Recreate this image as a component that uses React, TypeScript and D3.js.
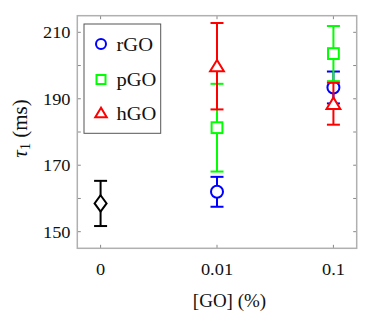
import React from "react";
import * as d3 from "d3";

const categories = ["0", "0.01", "0.1"];
const yTicks = [150, 160, 170, 180, 190, 200, 210];
const yLabels = [150, 170, 190, 210];

const controlMean = [158.5];
const controlErr = [6.8];

const seriesNames = ["rGO", "pGO", "hGO"];
const seriesColors = ["#0000ff", "#00ff00", "#ff0000"];
const seriesShapes = ["circle", "square", "triangle"];
const rGOMean = [162.0, 193.4];
const rGOErr = [4.5, 4.8];
const pGOMean = [181.3, 203.6];
const pGOErr = [13.2, 8.3];
const hGOMean = [199.8, 188.5];
const hGOErr = [13.0, 6.3];

const W = 374, H = 325;
const L = 77.3, R = 356.7, T = 15.7, B = 248.3;

const x = d3.scaleLinear().domain([-0.2, 2.2]).range([L, R]);
const y = d3.scaleLinear().domain([145, 215]).range([B, T]);

const FONT = "'Liberation Serif', 'Times New Roman', serif";

function SText({ x0, y0, sx, size, anchor, children }: any) {
  return (
    <text
      transform={`translate(${x0},${y0}) scale(${sx},1)`}
      fontFamily={FONT}
      fontSize={size}
      textAnchor={anchor}
      fill="#111"
    >
      {children}
    </text>
  );
}

function Marker({ shape, cx, cy, color, s, sw }: any) {
  if (shape === "circle")
    return <circle cx={cx} cy={cy} r={s * 0.5} fill="white" stroke={color} strokeWidth={sw} />;
  if (shape === "square")
    return <rect x={cx - s * 0.45} y={cy - s * 0.45} width={s * 0.9} height={s * 0.9} fill="white" stroke={color} strokeWidth={sw} />;
  if (shape === "triangle") {
    const h = s * 0.95, w = s * 1.15;
    const p = [[cx, cy - h * 0.55], [cx - w / 2, cy + h * 0.45], [cx + w / 2, cy + h * 0.45]];
    return <polygon points={p.map((q) => q.join(",")).join(" ")} fill="white" stroke={color} strokeWidth={sw} />;
  }
  const hw = s * 0.5, hh = s * 0.68;
  const p = [[cx, cy - hh], [cx + hw, cy], [cx, cy + hh], [cx - hw, cy]];
  return <polygon points={p.map((q) => q.join(",")).join(" ")} fill="white" stroke={color} strokeWidth={sw} />;
}

function ErrPoint({ xi, m, e, color, shape }: any) {
  const cx = x(xi);
  const cap = 6.5;
  return (
    <g>
      <line x1={cx} x2={cx} y1={y(m - e)} y2={y(m + e)} stroke={color} strokeWidth={2} />
      <line x1={cx - cap} x2={cx + cap} y1={y(m + e)} y2={y(m + e)} stroke={color} strokeWidth={2} />
      <line x1={cx - cap} x2={cx + cap} y1={y(m - e)} y2={y(m - e)} stroke={color} strokeWidth={2} />
      <Marker shape={shape} cx={cx} cy={y(m)} color={color} s={12} sw={2} />
    </g>
  );
}

export default function App() {
  const means = [rGOMean, pGOMean, hGOMean];
  const errs = [rGOErr, pGOErr, hGOErr];
  const legendY = [44, 79.5, 113];
  return (
    <svg width={W} height={H} style={{ position: "absolute", left: 0, top: 0, background: "white" }}>
      <rect x={0} y={0} width={W} height={H} fill="white" />
      {yTicks.map((t) => (
        <g key={"yt" + t}>
          <line x1={L} x2={L + 3.5} y1={y(t)} y2={y(t)} stroke="#888" strokeWidth={1} />
          <line x1={R - 3.5} x2={R} y1={y(t)} y2={y(t)} stroke="#888" strokeWidth={1} />
        </g>
      ))}
      {categories.map((c, i) => (
        <g key={"xt" + c}>
          <line x1={x(i)} x2={x(i)} y1={B} y2={B - 3.5} stroke="#888" strokeWidth={1} />
          <line x1={x(i)} x2={x(i)} y1={T} y2={T + 3.5} stroke="#888" strokeWidth={1} />
        </g>
      ))}
      <rect x={L} y={T} width={R - L} height={B - T} fill="none" stroke="#b0b0b0" strokeWidth={1.5} />
      {yLabels.map((t) => (
        <SText key={"yl" + t} x0={70.5} y0={y(t) + 6} sx={1.05} size={17.5} anchor="end">
          {t}
        </SText>
      ))}
      {categories.map((c, i) => (
        <SText key={"xl" + c} x0={x(i)} y0={275} sx={1.05} size={17.5} anchor="middle">
          {c}
        </SText>
      ))}
      <SText x0={229.5} y0={306.5} sx={1.0} size={19} anchor="middle">
        [GO]{"\u00a0"}(%)
      </SText>
      <text
        transform="translate(26.5,128.5) rotate(-90)"
        fontFamily={FONT}
        fontSize={21}
        textAnchor="middle"
        fill="#111"
      >
        <tspan fontStyle="italic">τ</tspan>
        <tspan fontSize={14} dy={3}>1</tspan>
        <tspan dy={-3}>{"\u00a0"}(ms)</tspan>
      </text>
      <ErrPoint xi={0} m={controlMean[0]} e={controlErr[0]} color="#000" shape="diamond" />
      {seriesNames.map((n, si) =>
        means[si].map((m, j) => (
          <ErrPoint key={n + j} xi={j + 1} m={m} e={errs[si][j]} color={seriesColors[si]} shape={seriesShapes[si]} />
        ))
      )}
      <rect x={84} y={24} width={76.7} height={109.3} fill="white" stroke="#555" strokeWidth={1} />
      {seriesNames.map((n, si) => (
        <g key={"lg" + n}>
          <Marker shape={seriesShapes[si]} cx={101} cy={legendY[si]} color={seriesColors[si]} s={10} sw={2} />
          <SText x0={116.5} y0={legendY[si] + 6.5} sx={1.08} size={19} anchor="start">
            {n}
          </SText>
        </g>
      ))}
    </svg>
  );
}
